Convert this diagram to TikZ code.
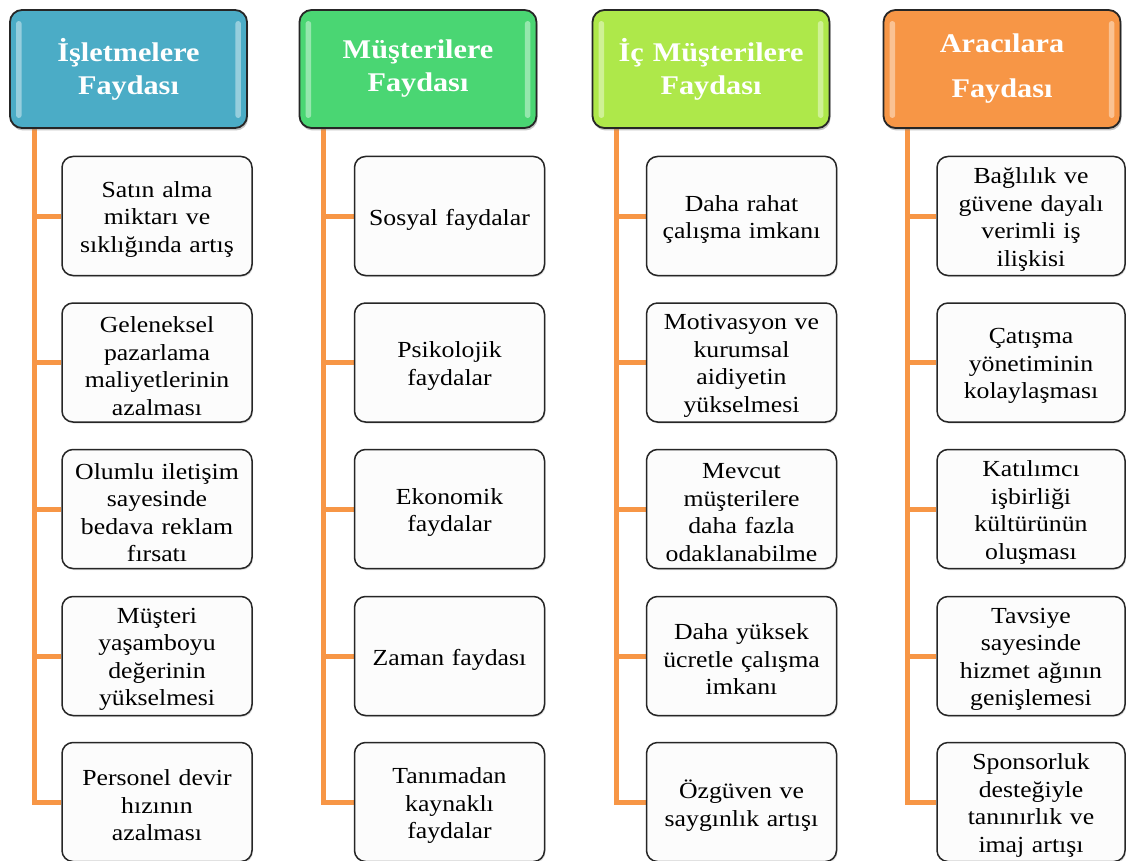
\documentclass[tikz,border=0pt]{standalone}
\usepackage{fontspec}
\setmainfont{Liberation Serif}[FakeStretch=1.12]
\usetikzlibrary{shadows,backgrounds}
\definecolor{tealhead}{HTML}{4BACC6}
\definecolor{greenhead}{HTML}{4AD673}
\definecolor{limehead}{HTML}{AEE84A}
\definecolor{orangehead}{HTML}{F79646}
\definecolor{linkorange}{HTML}{F79646}
% a benefit box: framed node plus its centred caption, set a little low
\newcommand\leafnode[5]{%
  \node[leafbox,#1] (#2) at (#3,#4) {};
  \node[leaftext] (#2t) at ([yshift=-3.5pt]#2.center) {#5};}
\begin{document}
\begin{tikzpicture}[x=1pt,y=-1pt,
  headbox/.style={draw=black!85, line width=1.8pt, rounded corners=12pt,
    minimum width=237pt, minimum height=118pt, inner sep=0pt,
    text width=232pt, align=center, text=white,
    font=\fontsize{27}{33}\selectfont\bfseries,
    drop shadow={shadow xshift=1pt, shadow yshift=-2.5pt, opacity=0.45}},
  leafbox/.style={draw=black!85, line width=1.5pt, rounded corners=11pt,
    fill=gray!2, minimum width=190pt, minimum height=119pt, inner sep=0pt,
    drop shadow={shadow xshift=1pt, shadow yshift=-1.5pt, opacity=0.25}},
  leaftext/.style={inner sep=0pt, text width=186pt, align=center,
    font=\fontsize{23}{27.5}\selectfont},
  link/.style={draw=linkorange, line width=5pt},
  gloss/.style={fill=white, opacity=0.42, rounded corners=2.5pt}
]
\useasboundingbox (0,0) rectangle (1126,861);

% column headers
\node[headbox, fill=tealhead]   (h1) at (128.5,69) {İşletmelere\\Faydası};
\node[headbox, fill=greenhead]  (h2) at (418,69)   {Müşterilere\\Faydası};
\node[headbox, fill=limehead]   (h3) at (711,69)   {İç Müşterilere\\Faydası};
\node[headbox, fill=orangehead, font=\fontsize{27}{45}\selectfont\bfseries]
                                (h4) at (1002,69)  {Aracılara\\Faydası};

% glossy side highlights on the headers
\foreach \h in {h1,h2,h3,h4}{
  \fill[gloss] ([xshift=7pt,yshift=-12pt]\h.north west) rectangle ([xshift=12.5pt,yshift=11pt]\h.south west);
  \fill[gloss] ([xshift=-12.5pt,yshift=-12pt]\h.north east) rectangle ([xshift=-7pt,yshift=11pt]\h.south east);
}

% column 1
\leafnode{}{a1}{157}{216}  {Satın alma\\miktarı ve\\sıklığında artış}
\leafnode{}{a2}{157}{362.5}{Geleneksel\\pazarlama\\maliyetlerinin\\azalması}
\leafnode{}{a3}{157}{509}  {Olumlu iletişim\\sayesinde\\bedava reklam\\fırsatı}
\leafnode{}{a4}{157}{656}  {Müşteri\\yaşamboyu\\değerinin\\yükselmesi}
\leafnode{}{a5}{157}{802}  {Personel devir\\hızının\\azalması}

% column 2
\leafnode{}{b1}{449.5}{216}  {Sosyal faydalar}
\leafnode{}{b2}{449.5}{362.5}{Psikolojik\\faydalar}
\leafnode{}{b3}{449.5}{509}  {Ekonomik\\faydalar}
\leafnode{}{b4}{449.5}{656}  {Zaman faydası}
\leafnode{}{b5}{449.5}{802}  {Tanımadan\\kaynaklı\\faydalar}

% column 3
\leafnode{}{c1}{741.5}{216}  {Daha rahat\\çalışma imkanı}
\leafnode{}{c2}{741.5}{362.5}{Motivasyon ve\\kurumsal\\aidiyetin\\yükselmesi}
\leafnode{}{c3}{741.5}{509}  {Mevcut\\müşterilere\\daha fazla\\odaklanabilme}
\leafnode{}{c4}{741.5}{656}  {Daha yüksek\\ücretle çalışma\\imkanı}
\leafnode{}{c5}{741.5}{802}  {Özgüven ve\\saygınlık artışı}

% column 4
\leafnode{minimum width=188pt}{d1}{1031}{216}  {Bağlılık ve\\güvene dayalı\\verimli iş\\ilişkisi}
\leafnode{minimum width=188pt}{d2}{1031}{362.5}{Çatışma\\yönetiminin\\kolaylaşması}
\leafnode{minimum width=188pt}{d3}{1031}{509}  {Katılımcı\\işbirliği\\kültürünün\\oluşması}
\leafnode{minimum width=188pt}{d4}{1031}{656}  {Tavsiye\\sayesinde\\hizmet ağının\\genişlemesi}
\leafnode{minimum width=188pt}{d5}{1031}{802}  {Sponsorluk\\desteğiyle\\tanınırlık ve\\imaj artışı}

% white page, then orange trunks and branches behind the boxes
\begin{scope}[on background layer]
  \fill[white] (0,0) rectangle (1126,861);
  \foreach \h/\k in {h1/a,h2/b,h3/c,h4/d}{
    \coordinate (t\h) at ([xshift=25pt]\h.south west);
    \draw[link] (t\h) |- (\k5.west);
    \foreach \i in {1,2,3,4}
      \draw[link] (t\h |- \k\i.west) -- (\k\i.west);
  }
\end{scope}
\end{tikzpicture}
\end{document}
